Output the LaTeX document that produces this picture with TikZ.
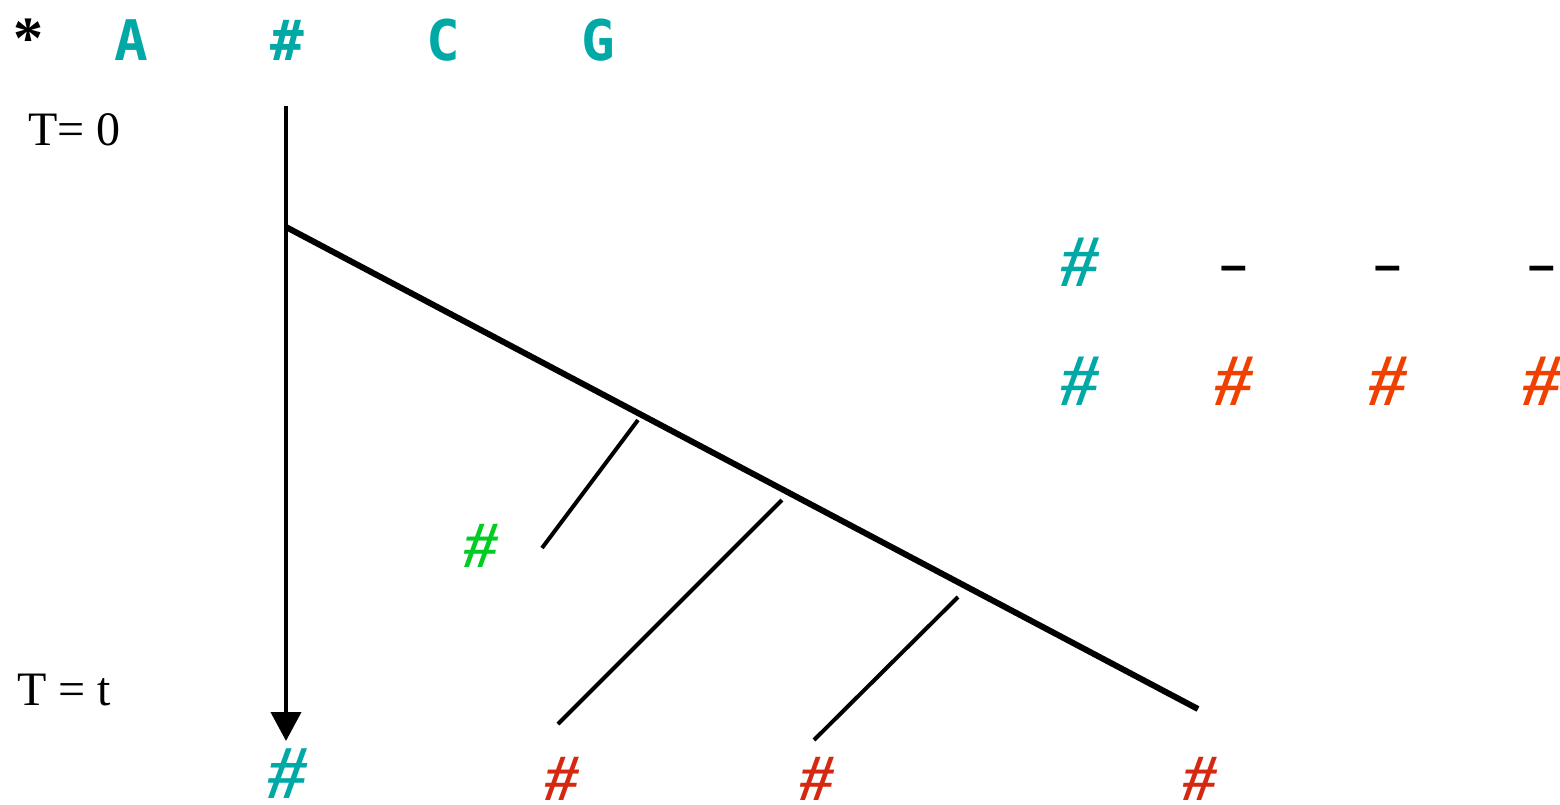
\documentclass[tikz,border=0pt]{standalone}
\usepackage{fontspec}
\setmainfont{Liberation Serif}
\newfontfamily\topfont{DejaVu Sans Mono Bold}
\newfontfamily\dashfont{Liberation Sans Bold}
\usetikzlibrary{arrows.meta}
\definecolor{teal1}{RGB}{0,168,166}
\definecolor{green1}{RGB}{0,204,34}
\definecolor{red1}{RGB}{212,40,16}
\definecolor{orange1}{RGB}{240,64,0}
\begin{document}
\begin{tikzpicture}[x=1pt,y=-1pt,
  lbl/.style={inner sep=0pt,anchor=base},
  toplet/.style={lbl,text=teal1,font=\topfont\fontsize{56}{60}\selectfont},
  bighash/.style={lbl,font=\bfseries\itshape\fontsize{76}{80}\selectfont},
  midhash/.style={lbl,font=\bfseries\itshape\fontsize{74}{80}\selectfont},
  smallhash/.style={lbl,font=\bfseries\itshape\fontsize{66}{70}\selectfont},
  tlabel/.style={lbl,anchor=base west,font=\fontsize{48}{55}\selectfont},
  dashlbl/.style={lbl,font=\dashfont\fontsize{48}{50}\selectfont},
  trunk/.style={line width=6pt},
  branch/.style={line width=4pt}]
\useasboundingbox (0,0) rectangle (1560,804);
% top row
\node[lbl,font=\bfseries\fontsize{60}{60}\selectfont] (star) at (28,58) {*};
\node[toplet] (A) at (131,60) {A};
\node[toplet] (H) at (287,60) {\#};
\node[toplet] (C) at (443,60) {C};
\node[toplet] (G) at (598,60) {G};
% time labels
\node[tlabel] (T0) at (28,145) {T= 0};
\node[tlabel] (Tt) at (17,705) {T = t};
% coordinates
\coordinate (v0) at (286,106);
\coordinate (vend) at (286,741);
\coordinate (s) at (286,227);
\coordinate (e) at (1198,709);
\coordinate (b1a) at (638,420); \coordinate (b1b) at (542,548);
\coordinate (b2a) at (782,500); \coordinate (b2b) at (558,724);
\coordinate (b3a) at (958,597); \coordinate (b3b) at (814,740);
% lines
\draw[line width=4pt,-{Triangle[width=30pt,length=29pt]}] (v0) -- (vend);
\draw[trunk] (s) -- (e);
\draw[branch] (b1a) -- (b1b);
\draw[branch] (b2a) -- (b2b);
\draw[branch] (b3a) -- (b3b);
% leaf labels
\node[bighash,text=teal1] (L0) at (287,798) {\#};
\node[smallhash,text=green1] (Lg) at (481,567) {\#};
\node[smallhash,text=red1] (L1) at (562,800) {\#};
\node[smallhash,text=red1] (L2) at (817,800) {\#};
\node[smallhash,text=red1] (L3) at (1200,800) {\#};
% right table
\node[midhash,text=teal1] (R1) at (1080,286) {\#};
\node[midhash,text=teal1] (R2) at (1080,405) {\#};
\node[dashlbl] (d1) at (1234,281) {–};
\node[dashlbl] (d2) at (1388,281) {–};
\node[dashlbl] (d3) at (1542,281) {–};
\node[midhash,text=orange1] (o1) at (1234,405) {\#};
\node[midhash,text=orange1] (o2) at (1388,405) {\#};
\node[midhash,text=orange1] (o3) at (1542,405) {\#};
\end{tikzpicture}
\end{document}
